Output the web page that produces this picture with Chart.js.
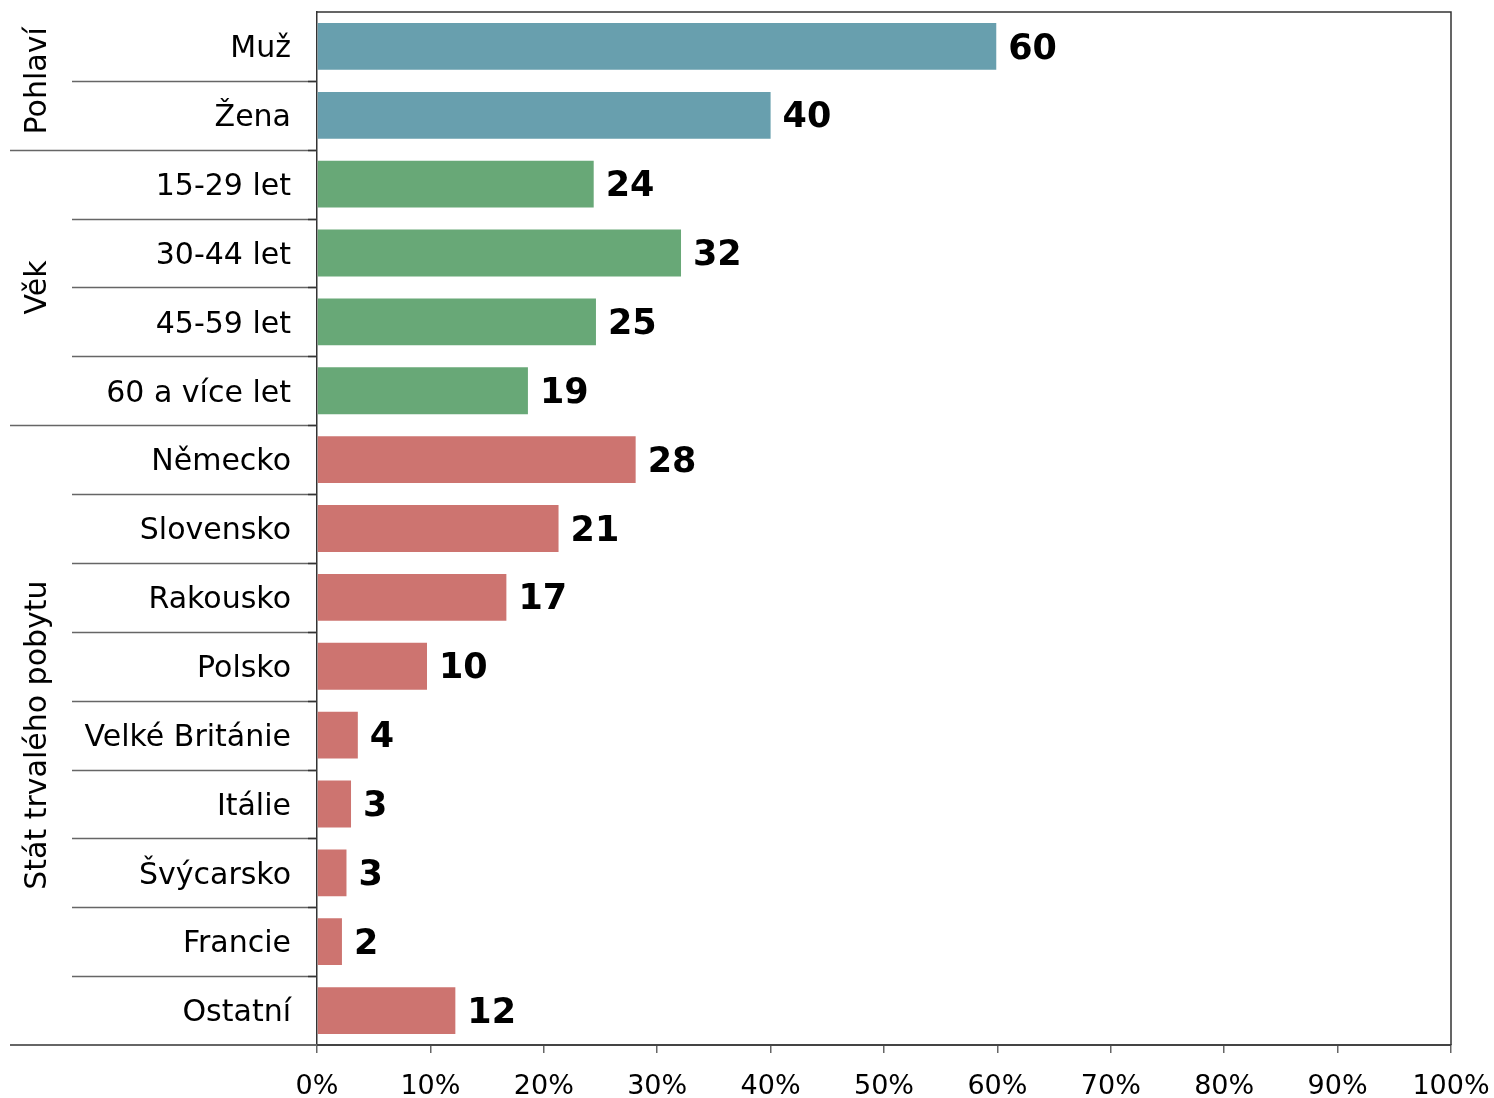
<!DOCTYPE html>
<html><head><meta charset="utf-8">
<script src="https://cdn.jsdelivr.net/npm/chart.js@4/dist/chart.umd.min.js"></script>
<style>html,body{margin:0;padding:0;background:#fff}#wrap{width:1494px;height:1098px}</style>
</head><body><div id="wrap"><canvas id="c" width="1494" height="1098"></canvas></div>
<script>
const categories = ["Muž","Žena","15-29 let","30-44 let","45-59 let","60 a více let","Německo","Slovensko","Rakousko","Polsko","Velké Británie","Itálie","Švýcarsko","Francie","Ostatní"];
const values = [59.9, 40.0, 24.4, 32.1, 24.6, 18.6, 28.1, 21.3, 16.7, 9.7, 3.6, 3.0, 2.6, 2.2, 12.2];
const groupNames = ["Pohlaví","Věk","Stát trvalého pobytu"];
const groupSizes = [2, 4, 9];
const groupColors = ["#689FAE","#68A877","#CD7470"];
const xTicks = [0,10,20,30,40,50,60,70,80,90,100];

const barColors = [];
groupSizes.forEach((n,g)=>{for(let i=0;i<n;i++)barColors.push(groupColors[g]);});
const FONT = "DejaVu Sans, Verdana, sans-serif";
const LINE = "#666";

const overlay = {
  id:'overlay',
  afterDraw(chart){
    const ctx = chart.ctx, ca = chart.chartArea, ys = chart.scales.y;
    ctx.save();
    ctx.strokeStyle = "#333"; ctx.lineWidth = 1.5;
    ctx.beginPath(); ctx.moveTo(ca.left, ca.top); ctx.lineTo(ca.right, ca.top); ctx.lineTo(ca.right, ca.bottom); ctx.stroke();
    ctx.strokeStyle = LINE; ctx.lineWidth = 2;
    ctx.beginPath(); ctx.moveTo(10, ca.bottom); ctx.lineTo(ca.left, ca.bottom); ctx.stroke();
    let idx = 0;
    const step = (ys.getPixelForValue(1) - ys.getPixelForValue(0));
    groupSizes.forEach((n,g)=>{
      const start = idx, end = idx + n;
      for(let i=start;i<end;i++){
        if (i === categories.length-1) continue;
        const yb = Math.round(ys.getPixelForValue(i) + step/2) + 0.5;
        const isGroupEnd = (i === end-1);
        ctx.strokeStyle = LINE; ctx.lineWidth = 1.5;
        ctx.beginPath(); ctx.moveTo(isGroupEnd ? 10 : 72, yb); ctx.lineTo(ca.left, yb); ctx.stroke();
        ctx.strokeStyle = "#333";
        ctx.beginPath(); ctx.moveTo(ca.left - 9, yb); ctx.lineTo(ca.left, yb); ctx.stroke();
      }
      const yTop = ys.getPixelForValue(start) - step/2;
      const yBot = ys.getPixelForValue(end-1) + step/2;
      ctx.save();
      ctx.translate(38, (yTop+yBot)/2);
      ctx.rotate(-Math.PI/2);
      ctx.fillStyle = "#000"; ctx.font = "30px " + FONT;
      ctx.textAlign = "center"; ctx.textBaseline = "middle";
      ctx.fillText(groupNames[g], 0, 0);
      ctx.restore();
      idx = end;
    });
    const meta = chart.getDatasetMeta(0);
    ctx.fillStyle = "#000"; ctx.font = "bold 35px " + FONT;
    ctx.textAlign = "left"; ctx.textBaseline = "middle";
    meta.data.forEach((bar,i)=>{
      ctx.fillText(String(Math.round(values[i])), bar.x + 12, bar.y + 3);
    });
    ctx.restore();
  }
};

new Chart(document.getElementById('c'), {
  type:'bar',
  data:{labels:categories, datasets:[{data:values, backgroundColor:barColors, borderWidth:0, categoryPercentage:1, barPercentage:0.68}]},
  options:{
    indexAxis:'y', responsive:false, animation:false,
    layout:{autoPadding:false, padding:{top:12,right:43,left:0,bottom:0}},
    plugins:{legend:{display:false}, tooltip:{enabled:false}},
    scales:{
      y:{
        grid:{display:false, drawTicks:false},
        border:{display:true, color:"#333", width:1.5},
        ticks:{color:"#000", font:{family:FONT, size:30}, padding:26, labelOffset:3, autoSkip:false},
        afterFit(s){ s.width = 317; s.paddingTop = 0; s.paddingBottom = 0; s.paddingLeft = 0; s.paddingRight = 0; }
      },
      x:{
        min:0, max:100,
        afterBuildTicks(s){ s.ticks = xTicks.map(v=>({value:v})); },
        grid:{drawOnChartArea:false, drawTicks:true, tickLength:8, color:LINE, lineWidth:1.5},
        border:{display:true, color:"#444", width:2},
        ticks:{color:"#000", font:{family:FONT, size:27}, padding:18, maxRotation:0, autoSkip:false, callback:(v)=>v+"%"},
        afterFit(s){ s.height = 53; s.paddingTop = 0; s.paddingBottom = 0; s.paddingLeft = 0; s.paddingRight = 0; }
      }
    }
  },
  plugins:[overlay]
});
</script>
</body></html>
